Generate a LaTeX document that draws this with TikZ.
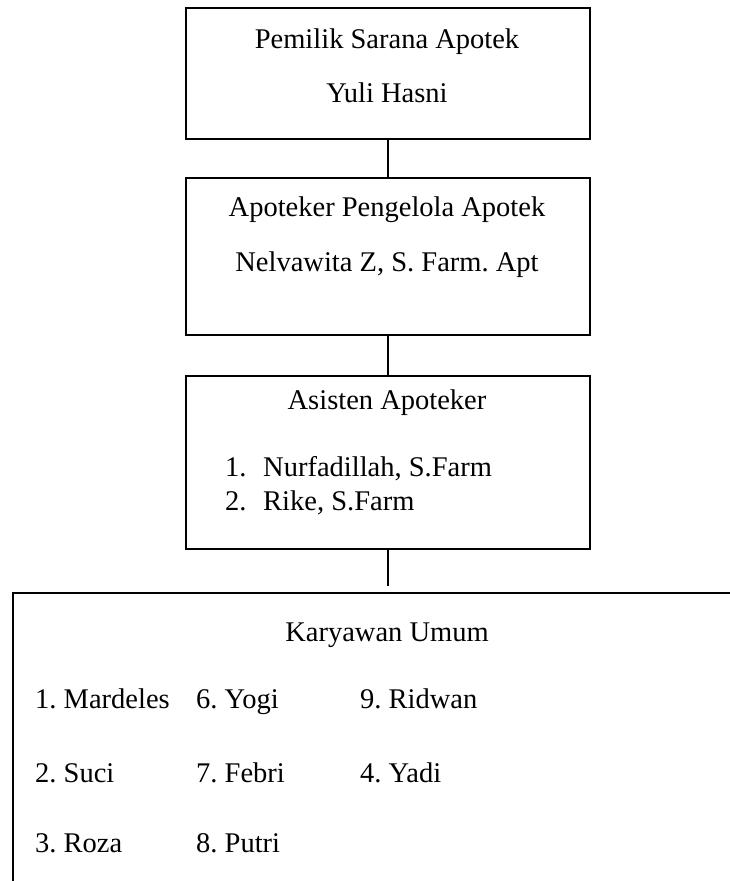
\documentclass[tikz,border=0pt]{standalone}
\usepackage{fontspec}
\setmainfont{Liberation Serif}
\frenchspacing
\begin{document}
\begin{tikzpicture}[x=1pt,y=-1pt,
  box/.style={draw, line width=1.6pt, rectangle, inner sep=0pt, anchor=north west},
  txt/.style={anchor=base, inner sep=0pt, font=\fontsize{28.5}{34}\selectfont},
  ltxt/.style={anchor=base west, inner sep=0pt, font=\fontsize{28.5}{34}\selectfont},
  link/.style={line width=1.6pt}]
\useasboundingbox (0,0) rectangle (730,881);
% boxes
\node[box, minimum width=404pt, minimum height=131pt] (b1) at (185,7) {};
\node[box, minimum width=404pt, minimum height=157pt] (b2) at (185,177) {};
\node[box, minimum width=404pt, minimum height=173pt] (b3) at (185,375) {};
\draw[link] (731,593) -- (13,593) -- (13,882);
\coordinate (c4) at (387,586);
% texts
\node[txt] (t1a) at (387,48) {Pemilik Sarana Apotek};
\node[txt] (t1b) at (387,102) {Yuli Hasni};
\node[txt] (t2a) at (387,216) {Apoteker Pengelola Apotek};
\node[txt] (t2b) at (387,271) {Nelvawita Z, S. Farm. Apt};
\node[txt] (t3a) at (387,409) {Asisten Apoteker};
\node[ltxt] (t3n1) at (225,476) {1.};
\node[ltxt] (t3b) at (263,476) {Nurfadillah, S.Farm};
\node[ltxt] (t3n2) at (225,510) {2.};
\node[ltxt] (t3c) at (263,510) {Rike, S.Farm};
\node[txt] (t4a) at (387,641) {Karyawan Umum};
\node[ltxt] (k1) at (35,708) {1. Mardeles};
\node[ltxt] (k2) at (35,782) {2. Suci};
\node[ltxt] (k3) at (35,852) {3. Roza};
\node[ltxt] (k6) at (196,708) {6. Yogi};
\node[ltxt] (k7) at (196,782) {7. Febri};
\node[ltxt] (k8) at (196,852) {8. Putri};
\node[ltxt] (k9) at (360,708) {9. Ridwan};
\node[ltxt] (k4) at (360,782) {4. Yadi};
% connectors
\draw[link] (b1.south) -- (b2.north);
\draw[link] (b2.south) -- (b3.north);
\draw[link] (b3.south) -- (b3.south |- c4);
\end{tikzpicture}
\end{document}
